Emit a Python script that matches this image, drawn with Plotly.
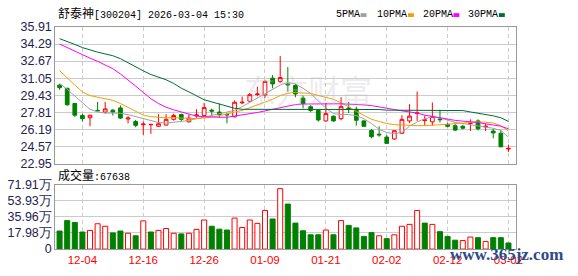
import plotly.graph_objects as go

W, H = 578, 276

# ---------------- data ----------------
opens = [30.39, 30.09, 28.65, 27.51, 27.30, 28.00, 27.84, 28.02, 28.23, 27.18,
         26.94, 26.64, 26.64, 26.49, 26.61, 27.15, 27.60, 26.91, 27.48, 27.51,
         28.02, 27.84, 27.62, 27.39, 28.71, 28.86, 29.49, 29.46, 31.05, 30.75,
         30.51, 30.36, 29.16, 28.35, 27.99, 27.00, 27.45, 27.21, 28.23, 28.11,
         27.00, 26.10, 25.74, 25.47, 25.29, 25.83, 27.00, 27.72, 27.03, 26.91,
         27.18, 26.67, 26.55, 26.49, 26.76, 27.00, 26.43, 26.04, 25.83, 24.33]
highs = [30.51, 30.15, 28.71, 27.69, 27.57, 28.80, 28.80, 28.11, 28.47, 27.45,
         27.09, 26.94, 26.70, 27.63, 27.63, 27.69, 27.69, 27.63, 28.11, 28.71,
         28.17, 28.65, 27.72, 28.95, 29.31, 29.64, 30.24, 30.84, 31.35, 33.15,
         32.10, 30.51, 29.40, 28.50, 28.05, 28.71, 27.51, 29.25, 28.80, 28.35,
         27.06, 26.25, 26.49, 25.65, 26.13, 27.54, 28.59, 29.79, 27.51, 28.74,
         28.05, 26.85, 26.70, 26.64, 27.15, 27.15, 26.76, 26.25, 26.10, 24.75]
lows = [29.94, 28.44, 27.39, 26.94, 26.49, 27.94, 27.69, 27.51, 27.18, 26.76,
        26.40, 25.68, 25.77, 26.43, 26.55, 27.03, 27.00, 26.85, 27.30, 27.39,
        27.45, 27.30, 26.76, 27.33, 28.59, 28.77, 29.34, 29.19, 30.09, 30.60,
        29.79, 29.25, 28.20, 27.81, 26.94, 26.94, 26.91, 27.06, 27.75, 26.55,
        26.46, 25.35, 25.50, 24.81, 25.20, 25.77, 26.79, 27.00, 26.55, 26.55,
        26.85, 26.40, 26.04, 26.19, 26.04, 26.10, 26.04, 25.35, 24.54, 24.06]
closes = [30.15, 28.53, 27.54, 27.21, 27.54, 27.96, 28.14, 27.84, 27.27, 27.27,
          26.58, 26.70, 26.67, 26.73, 27.15, 27.51, 27.15, 27.27, 27.57, 28.26,
          27.93, 27.60, 27.58, 28.77, 28.77, 29.49, 29.55, 30.75, 30.51, 31.11,
          30.42, 29.55, 28.65, 27.99, 27.09, 27.69, 27.00, 28.35, 28.17, 27.06,
          26.49, 25.50, 25.68, 24.87, 26.07, 27.15, 27.45, 27.75, 27.09, 27.42,
          27.12, 26.49, 26.13, 26.31, 26.82, 26.25, 26.49, 25.86, 24.54, 24.39]

ma5 = [30.55, 30.00, 29.35, 28.75, 28.10, 27.85, 27.75, 27.75, 27.72, 27.60,
       27.40, 27.20, 26.98, 26.85, 26.80, 26.85, 26.95, 27.05, 27.20, 27.35,
       27.50, 27.65, 27.80, 28.00, 28.35, 28.75, 29.15, 29.60, 30.00, 30.40,
       30.65, 30.50, 30.10, 29.60, 28.90, 28.20, 27.70, 27.60, 27.60, 27.50,
       27.20, 26.75, 26.20, 25.90, 25.80, 25.90, 26.50, 26.90, 27.20, 27.38,
       27.30, 27.10, 26.85, 26.75, 26.65, 26.55, 26.45, 26.30, 26.10, 25.45]
ma10 = [31.77, 31.05, 30.40, 29.75, 29.40, 29.25, 29.10, 28.95, 28.65, 28.30,
        27.90, 27.55, 27.40, 27.32, 27.30, 27.30, 27.25, 27.20, 27.22, 27.28,
        27.35, 27.50, 27.65, 27.80, 28.00, 28.25, 28.50, 28.75, 29.05, 29.40,
        29.62, 29.70, 29.68, 29.60, 29.42, 29.25, 29.05, 28.70, 28.35, 27.90,
        27.50, 27.15, 26.95, 26.75, 26.65, 26.60, 26.58, 26.55, 26.55, 26.58,
        26.62, 26.68, 26.75, 26.82, 26.88, 26.90, 26.88, 26.80, 26.55, 26.05]
ma20 = [34.29, 33.95, 33.60, 33.25, 32.95, 32.65, 32.30, 31.95, 31.45, 30.90,
        30.30, 29.70, 29.10, 28.65, 28.30, 28.05, 27.85, 27.60, 27.45, 27.40,
        27.35, 27.35, 27.35, 27.45, 27.55, 27.65, 27.80, 27.95, 28.10, 28.30,
        28.45, 28.55, 28.60, 28.62, 28.63, 28.63, 28.62, 28.62, 28.60, 28.58,
        28.52, 28.45, 28.35, 28.22, 28.08, 27.95, 27.88, 27.75, 27.55, 27.42,
        27.28, 27.15, 27.05, 26.98, 26.92, 26.85, 26.72, 26.60, 26.50, 26.25]
ma30 = [34.80, 34.55, 34.25, 33.95, 33.72, 33.52, 33.35, 33.18, 32.90, 32.50,
        32.10, 31.75, 31.40, 31.15, 30.90, 30.55, 30.10, 29.75, 29.35, 29.01,
        28.80, 28.60, 28.40, 28.20, 28.10, 28.10, 28.10, 28.10, 28.10, 28.10,
        28.10, 28.10, 28.10, 28.10, 28.10, 28.10, 28.08, 28.08, 28.08, 28.08,
        28.08, 28.08, 28.08, 28.02, 28.02, 28.02, 28.02, 28.02, 28.02, 28.02,
        28.02, 27.98, 27.98, 27.98, 27.85, 27.75, 27.62, 27.48, 27.30, 26.95]

volumes = [20.1, 31.7, 29.6, 19.0, 20.8, 28.2, 25.4, 18.0, 20.1, 17.6,
           14.8, 31.4, 19.0, 20.8, 22.9, 17.6, 16.9, 17.6, 21.9, 32.4,
           25.4, 22.2, 21.2, 34.5, 24.0, 32.4, 28.6, 43.0, 33.5, 67.3,
           50.1, 28.9, 20.4, 15.9, 15.9, 21.2, 15.9, 31.7, 26.4, 23.6,
           14.1, 18.3, 14.8, 11.6, 15.9, 25.4, 27.5, 43.0, 28.9, 27.5,
           19.4, 14.1, 9.9, 9.5, 13.4, 12.7, 8.5, 12.7, 12.7, 6.7638]

date_tick_index = [3, 11, 19, 27, 35, 43, 51, 59]
date_tick_labels = ["12-04", "12-16", "12-26", "01-09", "01-21", "02-02", "02-12", "03-02"]
price_ticks = [22.95, 24.57, 26.19, 27.81, 29.43, 31.05, 32.67, 34.29, 35.91]
price_tick_labels = ["22.95", "24.57", "26.19", "27.81", "29.43", "31.05", "32.67", "34.29", "35.91"]
vol_ticks = [0, 17.98, 35.96, 53.93, 71.91]
vol_tick_labels = ["0", "17.98万", "35.96万", "53.93万", "71.91万"]

stock_name = "舒泰神"
stock_info = "[300204] 2026-03-04 15:30"
vol_name = "成交量"
vol_value = ":67638"
ma_names = ["5PMA", "10PMA", "20PMA", "30PMA"]
ma_colors = ["#a0a0a0", "#f0a000", "#ff00ff", "#006b32"]

# ---------------- figure ----------------
RED = "#ff0000"
GREEN = "#008000"
GRID = "#cccccc"
BORDER = "#999999"
LABEL = "#1e2350"
MONO = "Liberation Mono, Noto Sans CJK SC"

x = list(range(len(closes)))
vol_up = [False] + [closes[i] >= closes[i - 1] for i in range(1, len(closes))]

fig = go.Figure()

fig.add_trace(go.Candlestick(
    x=x, open=opens, high=highs, low=lows, close=closes,
    increasing=dict(line=dict(color=RED, width=1), fillcolor="#ffffff"),
    decreasing=dict(line=dict(color=GREEN, width=1), fillcolor=GREEN),
    whiskerwidth=0, showlegend=False, hoverinfo="skip",
    xaxis="x", yaxis="y"))

for vals, col in zip([ma5, ma10, ma20, ma30], ma_colors):
    fig.add_trace(go.Scatter(x=x, y=vals, mode="lines",
                             line=dict(color=col, width=1),
                             showlegend=False, hoverinfo="skip",
                             xaxis="x", yaxis="y"))

fig.add_trace(go.Bar(
    x=x, y=volumes,
    marker=dict(color=["#ffffff" if u else GREEN for u in vol_up],
                line=dict(color=[RED if u else GREEN for u in vol_up], width=1)),
    showlegend=False, hoverinfo="skip", xaxis="x2", yaxis="y2"))

xdom = [56 / W, 522 / W]
xrange_ = [-0.56, len(closes) - 0.05]


def py(px):
    return 1 - px / H


axis_common = dict(showgrid=True, gridcolor=GRID, gridwidth=1, zeroline=False,
                   showline=True, linecolor=BORDER, linewidth=1, mirror=True,
                   fixedrange=True, ticks="")

fig.update_layout(
    width=W, height=H,
    margin=dict(l=0, r=0, t=0, b=0),
    paper_bgcolor="#ffffff", plot_bgcolor="#ffffff",
    bargap=0.34, boxgap=0.3,
    font=dict(family="Liberation Sans, Arial, sans-serif", size=12, color=LABEL),
    xaxis=dict(domain=xdom, range=xrange_, anchor="y", tickvals=date_tick_index,
               showticklabels=False, griddash="4px,3px",
               rangeslider=dict(visible=False), **axis_common),
    xaxis2=dict(domain=xdom, range=xrange_, anchor="y2", tickvals=date_tick_index,
                ticktext=date_tick_labels, griddash="4px,3px",
                tickfont=dict(color=RED, size=11.5, family="Liberation Sans, Arial"),
                **axis_common),
    yaxis=dict(domain=[py(165), py(21)], range=[price_ticks[0], price_ticks[-1]],
               anchor="x", tickvals=price_ticks, ticktext=price_tick_labels,
               tickfont=dict(size=12.5, color=LABEL), **axis_common),
    yaxis2=dict(domain=[py(255), py(187)], range=[vol_ticks[0], vol_ticks[-1]],
                anchor="x2", tickvals=vol_ticks, ticktext=vol_tick_labels,
                tickfont=dict(size=12.5, color=LABEL), **axis_common),
)

ann = []
ann.append(dict(text=f'<span style="font-size:12px">{stock_name}</span>{stock_info}',
                x=57 / W, y=py(8), xref="paper", yref="paper",
                xanchor="left", yanchor="middle", showarrow=False,
                font=dict(family=MONO, size=10, color="#000000")))
ann.append(dict(text=f'<span style="font-size:12px">{vol_name}</span>{vol_value}',
                x=57 / W, y=py(178), xref="paper", yref="paper",
                xanchor="left", yanchor="middle", showarrow=False,
                font=dict(family=MONO, size=10, color="#000000")))

legend_text_x = [338, 380, 426, 472]
legend_box_x = [365, 413, 459, 505]
shapes = []
for name, col, tx, bx in zip(ma_names, ma_colors, legend_text_x, legend_box_x):
    ann.append(dict(text=name, x=tx / W, y=py(8), xref="paper", yref="paper",
                    xanchor="left", yanchor="middle", showarrow=False,
                    font=dict(family=MONO, size=10, color="#000000")))
    shapes.append(dict(type="rect", xref="paper", yref="paper",
                       x0=bx / W, x1=(bx + 6) / W, y0=py(10.5), y1=py(6.5),
                       fillcolor=col, line=dict(width=0)))

# watermarks
ann.append(dict(text="东方财富", x=312 / W, y=py(86), xref="paper", yref="paper",
                xanchor="center", yanchor="middle", showarrow=False,
                font=dict(family="Noto Sans CJK SC", size=32, color="rgba(190,190,200,0.30)")))
ann.append(dict(text="<b>www.365jz.com</b>", x=513 / W, y=py(261), xref="paper", yref="paper",
                xanchor="center", yanchor="middle", showarrow=False,
                font=dict(family="Liberation Serif", size=17, color="#2b4a8a")))

fig.update_layout(annotations=ann, shapes=shapes)

fig.write_html("out.html")
